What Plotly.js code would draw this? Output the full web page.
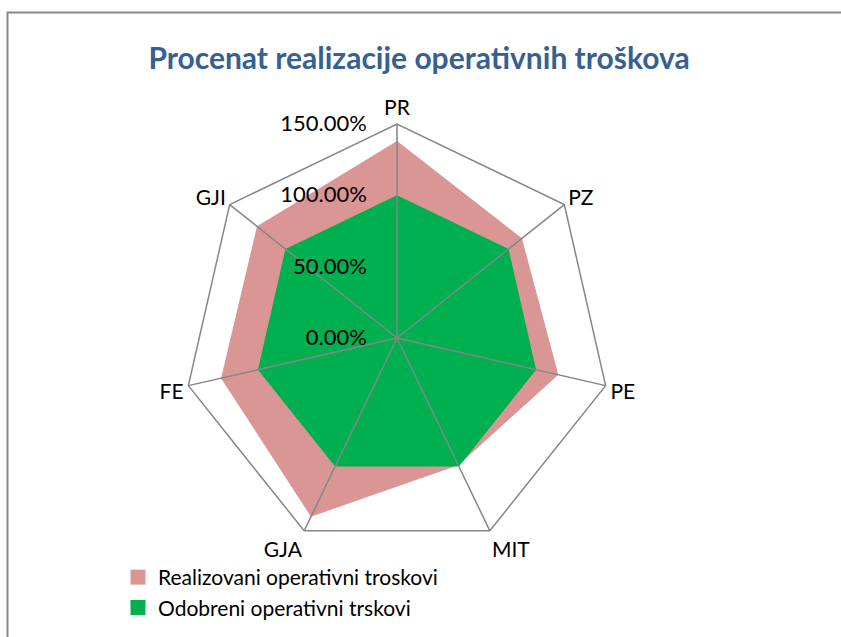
<!DOCTYPE html>
<html>
<head>
<meta charset="utf-8">
<script src="https://cdn.plot.ly/plotly-3.0.1.min.js"></script>
<style>html,body{margin:0;padding:0;background:#fff;}#chart{width:841px;height:637px;}</style>
</head>
<body>
<div id="chart"></div>
<script>
// Data
var categories = ['PR', 'PZ', 'PE', 'MIT', 'GJA', 'FE', 'GJI'];
var realizovani = [1.38, 1.12, 1.16, 0.99, 1.39, 1.265, 1.255];
var odobreni = [1.00, 1.00, 1.00, 1.00, 1.00, 1.00, 1.00];
var seriesNames = ['Realizovani operativni troskovi', 'Odobreni operativni trskovi'];
var tickValues = [0, 0.5, 1.0, 1.5];
var chartTitle = 'Procenat realizacije operativnih troškova';

var colors = ['#D99694', '#00B050'];
var W = 841, H = 637;
var FONT = 'Lato, Carlito, Calibri, sans-serif';
var rMax = tickValues[tickValues.length - 1];

function closed(arr) { return arr.concat([arr[0]]); }

// spokes built from categories
var spokeR = [], spokeT = [];
categories.forEach(function (c) { spokeR.push(0, rMax, null); spokeT.push(c, c, null); });

var traces = [
  {type: 'scatterpolar', r: closed(realizovani), theta: closed(categories), fill: 'toself',
   fillcolor: colors[0], mode: 'lines', line: {width: 0, color: colors[0]}, showlegend: false, hoverinfo: 'skip'},
  {type: 'scatterpolar', r: closed(odobreni), theta: closed(categories), fill: 'toself',
   fillcolor: colors[1], mode: 'lines', line: {width: 0, color: colors[1]}, showlegend: false, hoverinfo: 'skip'},
  {type: 'scatterpolar', r: spokeR, theta: spokeT, mode: 'lines', connectgaps: false,
   line: {color: '#868686', width: 1.5}, showlegend: false, hoverinfo: 'skip'},
  {type: 'scatterpolar', r: [null], theta: [categories[0]], mode: 'markers', name: seriesNames[0],
   marker: {symbol: 'square', size: 15, color: colors[0]}},
  {type: 'scatterpolar', r: [null], theta: [categories[0]], mode: 'markers', name: seriesNames[1],
   marker: {symbol: 'square', size: 15, color: colors[1]}}
];

var layout = {
  width: W, height: H,
  margin: {l: 0, r: 0, t: 0, b: 0},
  paper_bgcolor: '#fff',
  font: {family: FONT, size: 22, color: '#000'},
  title: {text: '<b>' + chartTitle + '</b>', font: {family: FONT, size: 30, color: '#376092'},
          x: 419 / W, xanchor: 'center', y: 1 - 58 / H, yanchor: 'middle'},
  polar: {
    domain: {x: [183 / W, 611 / W], y: [85 / H, 513 / H]},
    bgcolor: 'rgba(0,0,0,0)',
    gridshape: 'linear',
    angularaxis: {
      type: 'category', categoryarray: categories, rotation: 90, direction: 'clockwise',
      showgrid: false, showline: true, linecolor: '#868686', linewidth: 1.5,
      ticks: '', tickfont: {family: FONT, size: 21, color: '#000'}
    },
    radialaxis: {
      range: [0, rMax], angle: 90, side: 'counterclockwise', tickangle: 90,
      tickvals: tickValues, tickformat: '.2%',
      showgrid: false, showline: false,
      ticks: 'outside', ticklen: 22, tickcolor: 'rgba(0,0,0,0)',
      tickfont: {family: FONT, size: 22, color: '#000'}
    }
  },
  showlegend: true,
  legend: {x: 118 / W, xanchor: 'left', y: 1 - 557 / H, yanchor: 'top',
           font: {family: FONT, size: 21, color: '#000'}, bgcolor: 'rgba(0,0,0,0)', tracegroupgap: 0},
  shapes: [
    {type: 'rect', xref: 'paper', yref: 'paper', x0: 7.5 / W, x1: 1.2, y0: -0.2, y1: 1 - 12.5 / H,
     line: {color: '#888888', width: 2}, fillcolor: 'rgba(0,0,0,0)', layer: 'below'}
  ]
};

Plotly.newPlot('chart', traces, layout, {displayModeBar: false, staticPlot: true});
</script>
</body>
</html>
